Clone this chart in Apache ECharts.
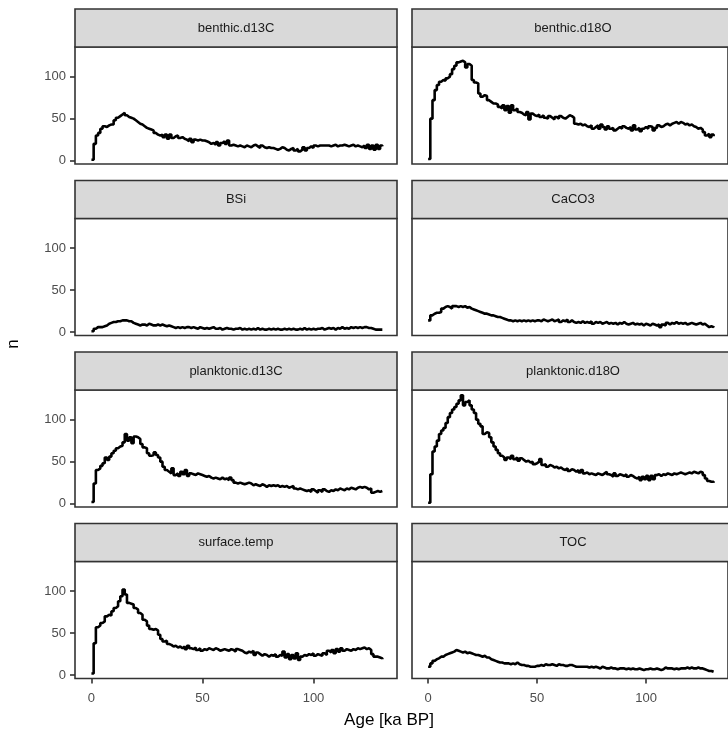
<!DOCTYPE html>
<html><head><meta charset="utf-8">
<script src="https://cdn.jsdelivr.net/npm/echarts@6/dist/echarts.min.js"></script>
<style>html,body{margin:0;padding:0;background:#fff}#c{width:728px;height:740px}</style>
</head><body><div id="c"></div>
<script>
const panelNames = ['benthic.d13C','benthic.d18O','BSi','CaCO3','planktonic.d13C','planktonic.d18O','surface.temp','TOC'];
const ageKa = Array.from({length: 132}, (_, i) => i);
const xTicks = [0, 50, 100];
const yTicks = [0, 50, 100];
const xTitle = 'Age [ka BP]';
const yTitle = 'n';

const benthicD13C = [1,20,30,33,38,41,40,42,43,43,
48,51,53,55,57,54,52,51,50,48,
46,44,43,41,39,38,37,36,33,31,
30,31,28,31,26,31,27,29,30,27,
28,26,25,23,26,22,25,24,25,24,
24,23,22,20,21,19,22,18,21,23,
20,24,18,19,18,17,18,17,16,18,
17,16,18,19,17,15,18,16,15,16,
15,15,14,13,14,16,15,13,12,14,
15,12,14,11,13,16,12,15,17,15,
18,17,18,18,18,18,18,17,18,19,
17,18,18,19,18,17,18,19,17,18,
17,16,18,15,19,14,18,13,19,14,
18,17];
const benthicD18O = [2,50,72,84,90,94,96,95,98,100,
103,109,113,117,118,119,117,111,115,113,
96,93,92,80,76,78,77,72,70,68,
68,67,64,62,66,60,65,57,66,60,
62,58,57,55,54,58,49,56,54,53,
55,52,54,51,50,53,51,49,52,50,
53,51,50,52,54,53,51,44,43,44,
42,43,41,40,42,38,40,42,38,43,
40,37,41,38,39,36,38,40,38,41,
39,38,40,36,42,37,39,35,38,40,
38,41,40,36,39,42,40,41,43,44,
42,44,45,46,44,46,45,43,44,42,
43,41,40,38,39,37,34,30,32,28,
31,29];
const bsi = [1,4,6,6,6,7,8,10,11,12,
12,13,13,14,14,14,13,13,11,10,
9,8,9,9,8,10,9,8,8,9,
8,9,8,7,8,7,6,5,6,5,
6,5,6,6,5,6,5,4,6,5,
4,5,4,5,6,4,4,5,3,4,
5,4,4,3,4,4,5,3,4,3,
4,3,4,3,5,3,4,3,3,4,
3,4,3,4,3,3,4,3,4,3,
4,3,3,4,3,5,3,4,3,4,
3,4,4,5,3,4,5,4,5,3,
5,4,6,4,5,4,6,5,6,5,
6,5,6,6,5,5,4,3,3,3,
3,3];
const caco3 = [14,20,22,23,23,24,28,30,31,30,
28,31,31,30,31,30,31,29,30,28,
27,26,25,24,23,22,22,21,20,20,
19,18,18,17,16,15,14,14,13,14,
13,14,13,14,13,14,13,14,13,14,
14,13,15,14,13,14,15,13,14,15,
12,14,13,15,12,14,12,11,12,11,
13,11,12,11,13,10,12,11,12,10,
11,12,10,11,10,11,9,11,10,12,
10,9,10,11,9,10,9,10,8,10,
9,8,10,9,8,9,6,9,8,11,
9,11,10,12,10,11,10,11,9,10,
11,10,9,10,11,9,10,8,6,7,
6,7];
const planktonicD13C = [2,24,40,42,45,48,55,52,56,60,
63,66,68,69,73,83,75,79,72,80,
79,77,71,67,66,60,57,58,61,58,
55,50,44,40,38,36,42,34,36,33,
38,35,40,33,36,35,34,36,35,34,
33,32,33,31,30,31,30,29,31,29,
30,28,31,28,25,24,25,24,23,24,
25,24,22,23,22,21,23,22,20,22,
21,22,21,22,20,21,20,21,19,20,
21,18,17,18,17,16,15,16,14,17,
15,13,16,14,17,15,14,16,15,17,
16,18,17,16,18,17,19,18,17,19,
20,19,20,19,17,18,13,14,15,14,
15,15];
const planktonicD18O = [1,35,62,68,75,83,87,90,96,103,
108,112,115,119,123,129,117,121,123,117,
112,108,100,95,92,83,85,84,79,73,
68,64,60,57,55,52,55,53,57,53,
55,51,54,52,50,51,49,50,47,48,
50,53,46,47,44,46,45,43,44,42,
43,41,40,42,39,41,40,38,40,37,
40,36,37,35,36,35,34,36,35,34,
36,38,35,34,32,36,33,35,34,33,
35,32,34,33,31,30,32,28,32,29,
33,28,33,29,34,35,33,35,34,36,
35,34,36,35,36,37,36,35,36,37,
36,38,37,36,38,37,34,30,27,26,
26,25];
const surfaceTemp = [2,38,57,59,62,64,70,72,71,76,
80,82,88,94,102,96,86,85,84,80,
78,74,72,66,64,59,55,54,55,53,
48,43,40,41,37,36,34,35,33,34,
32,34,31,35,32,31,33,30,32,29,
31,30,32,31,30,32,31,29,30,31,
30,29,31,30,28,31,30,29,27,26,
28,27,29,24,27,25,23,25,24,22,
24,23,25,22,24,23,28,21,25,19,
24,20,26,18,22,24,23,25,24,26,
23,25,24,23,26,24,29,27,30,26,
31,28,32,29,31,30,29,31,30,32,
31,32,33,31,32,30,25,22,22,21,
20,19];
const toc = [10,14,17,19,20,22,22,24,25,26,
27,28,30,29,28,27,28,26,27,26,
25,24,24,23,22,23,21,21,19,18,
17,16,15,15,14,14,14,13,14,13,
15,13,12,12,11,11,10,10,10,11,
11,12,11,13,12,12,13,12,11,13,
12,12,11,11,12,12,11,10,10,10,
10,10,10,9,10,9,10,9,8,10,
9,8,8,9,8,8,7,8,8,8,
7,8,7,8,7,7,8,7,6,7,
7,8,7,7,8,7,6,7,9,8,
8,8,7,8,7,8,8,8,9,8,
9,8,8,9,8,8,7,6,5,5,
4,4];

const seriesValues = [benthicD13C, benthicD18O, bsi, caco3, planktonicD13C, planktonicD18O, surfaceTemp, toc];

// layout
const colLeft = [75, 412];
const panelW = 322;
const rowTop = [47, 218.5, 390, 561.5];
const panelH = 117;
const stripH = 38;
const FONT = '"Liberation Sans", Arial, Helvetica, sans-serif';
const txtGrey = '#4D4D4D';
const dark = '#333333';

const grids = [], xAxes = [], yAxes = [], series = [], graphics = [];
panelNames.forEach((name, i) => {
  const r = Math.floor(i / 2), c = i % 2;
  const left = colLeft[c], top = rowTop[r];
  const isBottom = r === 3, isLeft = c === 0;
  grids.push({left: left, top: top, width: panelW, height: panelH, show: true,
    borderColor: dark, borderWidth: 1.6, backgroundColor: '#fff', containLabel: false});
  xAxes.push({type: 'value', gridIndex: i, min: -7.4, max: 137.6, position: 'bottom',
    axisLine: {show: false, onZero: false}, splitLine: {show: false},
    axisTick: {show: isBottom, length: 5, customValues: xTicks, lineStyle: {color: dark, width: 1.6}},
    axisLabel: {show: isBottom, customValues: xTicks, margin: 13, color: txtGrey, fontSize: 13, fontFamily: FONT}
  });
  yAxes.push({type: 'value', gridIndex: i, min: -4, max: 135.3, position: 'left',
    axisLine: {show: false, onZero: false}, splitLine: {show: false},
    axisTick: {show: isLeft, length: 5, customValues: yTicks, lineStyle: {color: dark, width: 1.6}},
    axisLabel: {show: isLeft, customValues: yTicks, margin: 9, color: txtGrey, fontSize: 13, fontFamily: FONT}
  });
  series.push({type: 'line', name: name, xAxisIndex: i, yAxisIndex: i, step: 'end',
    showSymbol: false, symbol: 'none', animation: false,
    lineStyle: {color: '#000', width: 2.6},
    data: ageKa.map((a, k) => [a, seriesValues[i][k]])
  });
  graphics.push({type: 'rect', shape: {x: left, y: top - stripH, width: panelW, height: stripH},
    style: {fill: '#D9D9D9', stroke: dark, lineWidth: 1.6}, z: 10});
  graphics.push({type: 'text', x: left + panelW / 2, y: top - stripH / 2,
    style: {text: name, fill: '#1A1A1A', font: '13px ' + FONT, textAlign: 'center', textVerticalAlign: 'middle'}, z: 11});
});
graphics.push({type: 'text', x: 389, y: 720,
  style: {text: xTitle, fill: '#000', font: '17px ' + FONT, textAlign: 'center', textVerticalAlign: 'middle'}});
graphics.push({type: 'text', x: 13, y: 344, rotation: Math.PI / 2,
  style: {text: yTitle, fill: '#000', font: '17px ' + FONT, textAlign: 'center', textVerticalAlign: 'middle'}});

const chart = echarts.init(document.getElementById('c'), null, {renderer: 'canvas'});
chart.setOption({
  animation: false,
  backgroundColor: '#fff',
  grid: grids, xAxis: xAxes, yAxis: yAxes, series: series, graphic: graphics
});
</script>
</body></html>
